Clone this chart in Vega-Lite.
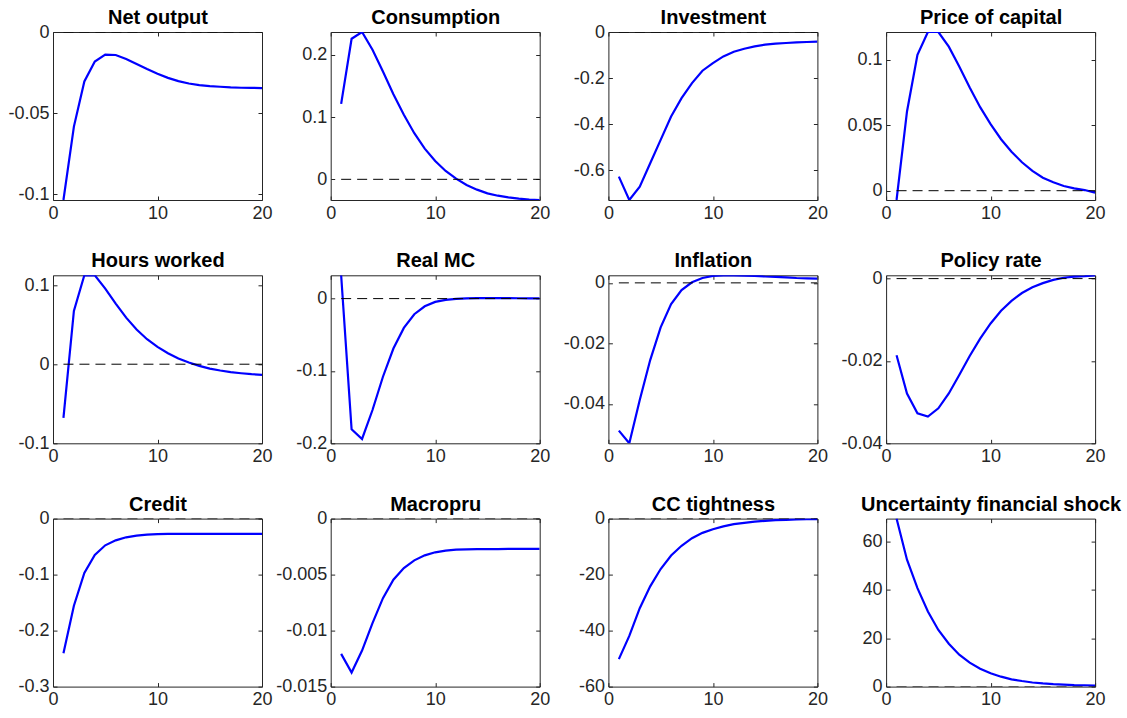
{
"$schema": "https://vega.github.io/schema/vega-lite/v6.json",
"background": "white",
"padding": {"left": 7, "top": 7, "right": 5, "bottom": 5},
"bounds": "flush",
"columns": 4,
"spacing": {"row": 75.3, "column": 68.7},
"datasets": {"irf": [
{"v":"Net output","t":1,"y":-0.1037},{"v":"Net output","t":2,"y":-0.0584},{"v":"Net output","t":3,"y":-0.0305},{"v":"Net output","t":4,"y":-0.0182},{"v":"Net output","t":5,"y":-0.0140},{"v":"Net output","t":6,"y":-0.0142},{"v":"Net output","t":7,"y":-0.0167},{"v":"Net output","t":8,"y":-0.0198},{"v":"Net output","t":9,"y":-0.0229},{"v":"Net output","t":10,"y":-0.0258},{"v":"Net output","t":11,"y":-0.0283},{"v":"Net output","t":12,"y":-0.0303},{"v":"Net output","t":13,"y":-0.0318},{"v":"Net output","t":14,"y":-0.0328},{"v":"Net output","t":15,"y":-0.0334},{"v":"Net output","t":16,"y":-0.0338},{"v":"Net output","t":17,"y":-0.0342},{"v":"Net output","t":18,"y":-0.0344},{"v":"Net output","t":19,"y":-0.0345},{"v":"Net output","t":20,"y":-0.0346},
{"v":"Consumption","t":1,"y":0.1212},{"v":"Consumption","t":2,"y":0.2257},{"v":"Consumption","t":3,"y":0.2365},{"v":"Consumption","t":4,"y":0.208},{"v":"Consumption","t":5,"y":0.1732},{"v":"Consumption","t":6,"y":0.1367},{"v":"Consumption","t":7,"y":0.1035},{"v":"Consumption","t":8,"y":0.074},{"v":"Consumption","t":9,"y":0.0493},{"v":"Consumption","t":10,"y":0.0295},{"v":"Consumption","t":11,"y":0.0134},{"v":"Consumption","t":12,"y":0.0011},{"v":"Consumption","t":13,"y":-0.0091},{"v":"Consumption","t":14,"y":-0.0166},{"v":"Consumption","t":15,"y":-0.0225},{"v":"Consumption","t":16,"y":-0.0263},{"v":"Consumption","t":17,"y":-0.029},{"v":"Consumption","t":18,"y":-0.0311},{"v":"Consumption","t":19,"y":-0.0324},{"v":"Consumption","t":20,"y":-0.0332},
{"v":"Investment","t":1,"y":-0.6275},{"v":"Investment","t":2,"y":-0.729},{"v":"Investment","t":3,"y":-0.671},{"v":"Investment","t":4,"y":-0.5696},{"v":"Investment","t":5,"y":-0.468},{"v":"Investment","t":6,"y":-0.3667},{"v":"Investment","t":7,"y":-0.287},{"v":"Investment","t":8,"y":-0.2217},{"v":"Investment","t":9,"y":-0.168},{"v":"Investment","t":10,"y":-0.1348},{"v":"Investment","t":11,"y":-0.1058},{"v":"Investment","t":12,"y":-0.0855},{"v":"Investment","t":13,"y":-0.0725},{"v":"Investment","t":14,"y":-0.0623},{"v":"Investment","t":15,"y":-0.055},{"v":"Investment","t":16,"y":-0.0507},{"v":"Investment","t":17,"y":-0.0478},{"v":"Investment","t":18,"y":-0.0449},{"v":"Investment","t":19,"y":-0.0435},{"v":"Investment","t":20,"y":-0.042},
{"v":"Price of capital","t":1,"y":-0.0071},{"v":"Price of capital","t":2,"y":0.0605},{"v":"Price of capital","t":3,"y":0.1038},{"v":"Price of capital","t":4,"y":0.1212},{"v":"Price of capital","t":5,"y":0.1212},{"v":"Price of capital","t":6,"y":0.110},{"v":"Price of capital","t":7,"y":0.0949},{"v":"Price of capital","t":8,"y":0.0788},{"v":"Price of capital","t":9,"y":0.0638},{"v":"Price of capital","t":10,"y":0.0508},{"v":"Price of capital","t":11,"y":0.0393},{"v":"Price of capital","t":12,"y":0.0298},{"v":"Price of capital","t":13,"y":0.0217},{"v":"Price of capital","t":14,"y":0.0151},{"v":"Price of capital","t":15,"y":0.0099},{"v":"Price of capital","t":16,"y":0.0064},{"v":"Price of capital","t":17,"y":0.0036},{"v":"Price of capital","t":18,"y":0.0018},{"v":"Price of capital","t":19,"y":0.0005},{"v":"Price of capital","t":20,"y":-0.0015},
{"v":"Hours worked","t":1,"y":-0.0678},{"v":"Hours worked","t":2,"y":0.0674},{"v":"Hours worked","t":3,"y":0.1124},{"v":"Hours worked","t":4,"y":0.1124},{"v":"Hours worked","t":5,"y":0.0956},{"v":"Hours worked","t":6,"y":0.0766},{"v":"Hours worked","t":7,"y":0.0589},{"v":"Hours worked","t":8,"y":0.0438},{"v":"Hours worked","t":9,"y":0.0316},{"v":"Hours worked","t":10,"y":0.0219},{"v":"Hours worked","t":11,"y":0.0139},{"v":"Hours worked","t":12,"y":0.0072},{"v":"Hours worked","t":13,"y":0.0021},{"v":"Hours worked","t":14,"y":-0.0021},{"v":"Hours worked","t":15,"y":-0.0055},{"v":"Hours worked","t":16,"y":-0.008},{"v":"Hours worked","t":17,"y":-0.0101},{"v":"Hours worked","t":18,"y":-0.0114},{"v":"Hours worked","t":19,"y":-0.0126},{"v":"Hours worked","t":20,"y":-0.0135},
{"v":"Real MC","t":1,"y":0.0322},{"v":"Real MC","t":2,"y":-0.1807},{"v":"Real MC","t":3,"y":-0.194},{"v":"Real MC","t":4,"y":-0.154},{"v":"Real MC","t":5,"y":-0.108},{"v":"Real MC","t":6,"y":-0.069},{"v":"Real MC","t":7,"y":-0.0405},{"v":"Real MC","t":8,"y":-0.0216},{"v":"Real MC","t":9,"y":-0.0106},{"v":"Real MC","t":10,"y":-0.0046},{"v":"Real MC","t":11,"y":-0.0018},{"v":"Real MC","t":12,"y":-0.0005},{"v":"Real MC","t":13,"y":0.0002},{"v":"Real MC","t":14,"y":0.0006},{"v":"Real MC","t":15,"y":0.0007},{"v":"Real MC","t":16,"y":0.0007},{"v":"Real MC","t":17,"y":0.0006},{"v":"Real MC","t":18,"y":0.0005},{"v":"Real MC","t":19,"y":0.0004},{"v":"Real MC","t":20,"y":0.0003},
{"v":"Inflation","t":1,"y":-0.0488},{"v":"Inflation","t":2,"y":-0.053},{"v":"Inflation","t":3,"y":-0.0387},{"v":"Inflation","t":4,"y":-0.0255},{"v":"Inflation","t":5,"y":-0.0147},{"v":"Inflation","t":6,"y":-0.007},{"v":"Inflation","t":7,"y":-0.0024},{"v":"Inflation","t":8,"y":0.0002},{"v":"Inflation","t":9,"y":0.0016},{"v":"Inflation","t":10,"y":0.0023},{"v":"Inflation","t":11,"y":0.0025},{"v":"Inflation","t":12,"y":0.0025},{"v":"Inflation","t":13,"y":0.0024},{"v":"Inflation","t":14,"y":0.0023},{"v":"Inflation","t":15,"y":0.0021},{"v":"Inflation","t":16,"y":0.002},{"v":"Inflation","t":17,"y":0.0018},{"v":"Inflation","t":18,"y":0.0016},{"v":"Inflation","t":19,"y":0.0015},{"v":"Inflation","t":20,"y":0.0014},
{"v":"Policy rate","t":1,"y":-0.0186},{"v":"Policy rate","t":2,"y":-0.0279},{"v":"Policy rate","t":3,"y":-0.0327},{"v":"Policy rate","t":4,"y":-0.0335},{"v":"Policy rate","t":5,"y":-0.0315},{"v":"Policy rate","t":6,"y":-0.0279},{"v":"Policy rate","t":7,"y":-0.0234},{"v":"Policy rate","t":8,"y":-0.0188},{"v":"Policy rate","t":9,"y":-0.0146},{"v":"Policy rate","t":10,"y":-0.0109},{"v":"Policy rate","t":11,"y":-0.0078},{"v":"Policy rate","t":12,"y":-0.0054},{"v":"Policy rate","t":13,"y":-0.0035},{"v":"Policy rate","t":14,"y":-0.0021},{"v":"Policy rate","t":15,"y":-0.0011},{"v":"Policy rate","t":16,"y":-0.0003},{"v":"Policy rate","t":17,"y":0.0002},{"v":"Policy rate","t":18,"y":0.0005},{"v":"Policy rate","t":19,"y":0.0006},{"v":"Policy rate","t":20,"y":0.0008},
{"v":"Credit","t":1,"y":-0.2403},{"v":"Credit","t":2,"y":-0.1556},{"v":"Credit","t":3,"y":-0.0972},{"v":"Credit","t":4,"y":-0.065},{"v":"Credit","t":5,"y":-0.0477},{"v":"Credit","t":6,"y":-0.0388},{"v":"Credit","t":7,"y":-0.0334},{"v":"Credit","t":8,"y":-0.0304},{"v":"Credit","t":9,"y":-0.0286},{"v":"Credit","t":10,"y":-0.0277},{"v":"Credit","t":11,"y":-0.0274},{"v":"Credit","t":12,"y":-0.0273},{"v":"Credit","t":13,"y":-0.0272},{"v":"Credit","t":14,"y":-0.0272},{"v":"Credit","t":15,"y":-0.0271},{"v":"Credit","t":16,"y":-0.0271},{"v":"Credit","t":17,"y":-0.0271},{"v":"Credit","t":18,"y":-0.0271},{"v":"Credit","t":19,"y":-0.0271},{"v":"Credit","t":20,"y":-0.0271},
{"v":"Macropru","t":1,"y":-0.01208},{"v":"Macropru","t":2,"y":-0.01374},{"v":"Macropru","t":3,"y":-0.01178},{"v":"Macropru","t":4,"y":-0.00933},{"v":"Macropru","t":5,"y":-0.0071},{"v":"Macropru","t":6,"y":-0.00546},{"v":"Macropru","t":7,"y":-0.00441},{"v":"Macropru","t":8,"y":-0.00373},{"v":"Macropru","t":9,"y":-0.00328},{"v":"Macropru","t":10,"y":-0.00301},{"v":"Macropru","t":11,"y":-0.00286},{"v":"Macropru","t":12,"y":-0.00277},{"v":"Macropru","t":13,"y":-0.00274},{"v":"Macropru","t":14,"y":-0.00273},{"v":"Macropru","t":15,"y":-0.00272},{"v":"Macropru","t":16,"y":-0.00272},{"v":"Macropru","t":17,"y":-0.00271},{"v":"Macropru","t":18,"y":-0.00271},{"v":"Macropru","t":19,"y":-0.00271},{"v":"Macropru","t":20,"y":-0.00271},
{"v":"CC tightness","t":1,"y":-50.2},{"v":"CC tightness","t":2,"y":-41.9},{"v":"CC tightness","t":3,"y":-32.0},{"v":"CC tightness","t":4,"y":-24.2},{"v":"CC tightness","t":5,"y":-18.0},{"v":"CC tightness","t":6,"y":-13.2},{"v":"CC tightness","t":7,"y":-9.7},{"v":"CC tightness","t":8,"y":-7.0},{"v":"CC tightness","t":9,"y":-5.1},{"v":"CC tightness","t":10,"y":-3.8},{"v":"CC tightness","t":11,"y":-2.8},{"v":"CC tightness","t":12,"y":-2.0},{"v":"CC tightness","t":13,"y":-1.5},{"v":"CC tightness","t":14,"y":-1.07},{"v":"CC tightness","t":15,"y":-0.78},{"v":"CC tightness","t":16,"y":-0.54},{"v":"CC tightness","t":17,"y":-0.42},{"v":"CC tightness","t":18,"y":-0.3},{"v":"CC tightness","t":19,"y":-0.24},{"v":"CC tightness","t":20,"y":-0.18},
{"v":"Uncertainty financial shock","t":1,"y":69.4},{"v":"Uncertainty financial shock","t":2,"y":52.4},{"v":"Uncertainty financial shock","t":3,"y":40.7},{"v":"Uncertainty financial shock","t":4,"y":31.0},{"v":"Uncertainty financial shock","t":5,"y":23.4},{"v":"Uncertainty financial shock","t":6,"y":17.7},{"v":"Uncertainty financial shock","t":7,"y":13.2},{"v":"Uncertainty financial shock","t":8,"y":9.9},{"v":"Uncertainty financial shock","t":9,"y":7.4},{"v":"Uncertainty financial shock","t":10,"y":5.5},{"v":"Uncertainty financial shock","t":11,"y":4.1},{"v":"Uncertainty financial shock","t":12,"y":3.0},{"v":"Uncertainty financial shock","t":13,"y":2.3},{"v":"Uncertainty financial shock","t":14,"y":1.7},{"v":"Uncertainty financial shock","t":15,"y":1.3},{"v":"Uncertainty financial shock","t":16,"y":1.0},{"v":"Uncertainty financial shock","t":17,"y":0.8},{"v":"Uncertainty financial shock","t":18,"y":0.6},{"v":"Uncertainty financial shock","t":19,"y":0.5},{"v":"Uncertainty financial shock","t":20,"y":0.4}
]},
"concat": [
{"width": 209, "height": 168, "resolve": {"axis": {"x": "independent", "y": "independent"}}, "layer": [
 {"data": {"name": "irf"}, "transform": [{"filter": {"field": "v", "equal": "Net output"}}], "mark": {"type": "line", "color": "#0000ff", "strokeWidth": 2.2, "clip": true},
  "encoding": {"x": {"field": "t", "type": "quantitative", "scale": {"domain": [0, 20], "nice": false}, "axis": {"orient": "bottom", "title": null, "values": [0, 10, 20]}},
   "y": {"field": "y", "type": "quantitative", "scale": {"domain": [-0.1037, 0], "nice": false, "zero": false}, "axis": {"orient": "left", "title": null, "values": [-0.1, -0.05, 0]}}}},
 {"data": {"values": [{}]}, "mark": {"type": "rule", "color": "black", "strokeWidth": 1, "strokeDash": [10, 6], "clip": true},
  "encoding": {"x": {"datum": 1, "type": "quantitative", "scale": {"domain": [0, 20], "nice": false}, "axis": {"orient": "top", "title": "Net output", "labels": false, "values": [0, 10, 20]}}, "x2": {"datum": 20},
   "y": {"datum": 0, "type": "quantitative", "scale": {"domain": [-0.1037, 0], "nice": false, "zero": false}, "axis": {"orient": "right", "title": null, "labels": false, "values": [-0.1, -0.05, 0]}}}}]},
{"width": 209, "height": 168, "resolve": {"axis": {"x": "independent", "y": "independent"}}, "layer": [
 {"data": {"name": "irf"}, "transform": [{"filter": {"field": "v", "equal": "Consumption"}}], "mark": {"type": "line", "color": "#0000ff", "strokeWidth": 2.2, "clip": true},
  "encoding": {"x": {"field": "t", "type": "quantitative", "scale": {"domain": [0, 20], "nice": false}, "axis": {"orient": "bottom", "title": null, "values": [0, 10, 20]}},
   "y": {"field": "y", "type": "quantitative", "scale": {"domain": [-0.0332, 0.2365], "nice": false, "zero": false}, "axis": {"orient": "left", "title": null, "values": [0, 0.1, 0.2]}}}},
 {"data": {"values": [{}]}, "mark": {"type": "rule", "color": "black", "strokeWidth": 1, "strokeDash": [10, 6], "clip": true},
  "encoding": {"x": {"datum": 1, "type": "quantitative", "scale": {"domain": [0, 20], "nice": false}, "axis": {"orient": "top", "title": "Consumption", "labels": false, "values": [0, 10, 20]}}, "x2": {"datum": 20},
   "y": {"datum": 0, "type": "quantitative", "scale": {"domain": [-0.0332, 0.2365], "nice": false, "zero": false}, "axis": {"orient": "right", "title": null, "labels": false, "values": [0, 0.1, 0.2]}}}}]},
{"width": 209, "height": 168, "resolve": {"axis": {"x": "independent", "y": "independent"}}, "layer": [
 {"data": {"name": "irf"}, "transform": [{"filter": {"field": "v", "equal": "Investment"}}], "mark": {"type": "line", "color": "#0000ff", "strokeWidth": 2.2, "clip": true},
  "encoding": {"x": {"field": "t", "type": "quantitative", "scale": {"domain": [0, 20], "nice": false}, "axis": {"orient": "bottom", "title": null, "values": [0, 10, 20]}},
   "y": {"field": "y", "type": "quantitative", "scale": {"domain": [-0.729, 0], "nice": false, "zero": false}, "axis": {"orient": "left", "title": null, "values": [-0.6, -0.4, -0.2, 0]}}}},
 {"data": {"values": [{}]}, "mark": {"type": "rule", "color": "black", "strokeWidth": 1, "strokeDash": [10, 6], "clip": true},
  "encoding": {"x": {"datum": 1, "type": "quantitative", "scale": {"domain": [0, 20], "nice": false}, "axis": {"orient": "top", "title": "Investment", "labels": false, "values": [0, 10, 20]}}, "x2": {"datum": 20},
   "y": {"datum": 0, "type": "quantitative", "scale": {"domain": [-0.729, 0], "nice": false, "zero": false}, "axis": {"orient": "right", "title": null, "labels": false, "values": [-0.6, -0.4, -0.2, 0]}}}}]},
{"width": 209, "height": 168, "resolve": {"axis": {"x": "independent", "y": "independent"}}, "layer": [
 {"data": {"name": "irf"}, "transform": [{"filter": {"field": "v", "equal": "Price of capital"}}], "mark": {"type": "line", "color": "#0000ff", "strokeWidth": 2.2, "clip": true},
  "encoding": {"x": {"field": "t", "type": "quantitative", "scale": {"domain": [0, 20], "nice": false}, "axis": {"orient": "bottom", "title": null, "values": [0, 10, 20]}},
   "y": {"field": "y", "type": "quantitative", "scale": {"domain": [-0.0071, 0.1212], "nice": false, "zero": false}, "axis": {"orient": "left", "title": null, "values": [0, 0.05, 0.1]}}}},
 {"data": {"values": [{}]}, "mark": {"type": "rule", "color": "black", "strokeWidth": 1, "strokeDash": [10, 6], "clip": true},
  "encoding": {"x": {"datum": 1, "type": "quantitative", "scale": {"domain": [0, 20], "nice": false}, "axis": {"orient": "top", "title": "Price of capital", "labels": false, "values": [0, 10, 20]}}, "x2": {"datum": 20},
   "y": {"datum": 0, "type": "quantitative", "scale": {"domain": [-0.0071, 0.1212], "nice": false, "zero": false}, "axis": {"orient": "right", "title": null, "labels": false, "values": [0, 0.05, 0.1]}}}}]},
{"width": 209, "height": 168, "resolve": {"axis": {"x": "independent", "y": "independent"}}, "layer": [
 {"data": {"name": "irf"}, "transform": [{"filter": {"field": "v", "equal": "Hours worked"}}], "mark": {"type": "line", "color": "#0000ff", "strokeWidth": 2.2, "clip": true},
  "encoding": {"x": {"field": "t", "type": "quantitative", "scale": {"domain": [0, 20], "nice": false}, "axis": {"orient": "bottom", "title": null, "values": [0, 10, 20]}},
   "y": {"field": "y", "type": "quantitative", "scale": {"domain": [-0.1, 0.1124], "nice": false, "zero": false}, "axis": {"orient": "left", "title": null, "values": [-0.1, 0, 0.1]}}}},
 {"data": {"values": [{}]}, "mark": {"type": "rule", "color": "black", "strokeWidth": 1, "strokeDash": [10, 6], "clip": true},
  "encoding": {"x": {"datum": 1, "type": "quantitative", "scale": {"domain": [0, 20], "nice": false}, "axis": {"orient": "top", "title": "Hours worked", "labels": false, "values": [0, 10, 20]}}, "x2": {"datum": 20},
   "y": {"datum": 0, "type": "quantitative", "scale": {"domain": [-0.1, 0.1124], "nice": false, "zero": false}, "axis": {"orient": "right", "title": null, "labels": false, "values": [-0.1, 0, 0.1]}}}}]},
{"width": 209, "height": 168, "resolve": {"axis": {"x": "independent", "y": "independent"}}, "layer": [
 {"data": {"name": "irf"}, "transform": [{"filter": {"field": "v", "equal": "Real MC"}}], "mark": {"type": "line", "color": "#0000ff", "strokeWidth": 2.2, "clip": true},
  "encoding": {"x": {"field": "t", "type": "quantitative", "scale": {"domain": [0, 20], "nice": false}, "axis": {"orient": "bottom", "title": null, "values": [0, 10, 20]}},
   "y": {"field": "y", "type": "quantitative", "scale": {"domain": [-0.2, 0.0322], "nice": false, "zero": false}, "axis": {"orient": "left", "title": null, "values": [-0.2, -0.1, 0]}}}},
 {"data": {"values": [{}]}, "mark": {"type": "rule", "color": "black", "strokeWidth": 1, "strokeDash": [10, 6], "clip": true},
  "encoding": {"x": {"datum": 1, "type": "quantitative", "scale": {"domain": [0, 20], "nice": false}, "axis": {"orient": "top", "title": "Real MC", "labels": false, "values": [0, 10, 20]}}, "x2": {"datum": 20},
   "y": {"datum": 0, "type": "quantitative", "scale": {"domain": [-0.2, 0.0322], "nice": false, "zero": false}, "axis": {"orient": "right", "title": null, "labels": false, "values": [-0.2, -0.1, 0]}}}}]},
{"width": 209, "height": 168, "resolve": {"axis": {"x": "independent", "y": "independent"}}, "layer": [
 {"data": {"name": "irf"}, "transform": [{"filter": {"field": "v", "equal": "Inflation"}}], "mark": {"type": "line", "color": "#0000ff", "strokeWidth": 2.2, "clip": true},
  "encoding": {"x": {"field": "t", "type": "quantitative", "scale": {"domain": [0, 20], "nice": false}, "axis": {"orient": "bottom", "title": null, "values": [0, 10, 20]}},
   "y": {"field": "y", "type": "quantitative", "scale": {"domain": [-0.053, 0.0025], "nice": false, "zero": false}, "axis": {"orient": "left", "title": null, "values": [-0.04, -0.02, 0]}}}},
 {"data": {"values": [{}]}, "mark": {"type": "rule", "color": "black", "strokeWidth": 1, "strokeDash": [10, 6], "clip": true},
  "encoding": {"x": {"datum": 1, "type": "quantitative", "scale": {"domain": [0, 20], "nice": false}, "axis": {"orient": "top", "title": "Inflation", "labels": false, "values": [0, 10, 20]}}, "x2": {"datum": 20},
   "y": {"datum": 0, "type": "quantitative", "scale": {"domain": [-0.053, 0.0025], "nice": false, "zero": false}, "axis": {"orient": "right", "title": null, "labels": false, "values": [-0.04, -0.02, 0]}}}}]},
{"width": 209, "height": 168, "resolve": {"axis": {"x": "independent", "y": "independent"}}, "layer": [
 {"data": {"name": "irf"}, "transform": [{"filter": {"field": "v", "equal": "Policy rate"}}], "mark": {"type": "line", "color": "#0000ff", "strokeWidth": 2.2, "clip": true},
  "encoding": {"x": {"field": "t", "type": "quantitative", "scale": {"domain": [0, 20], "nice": false}, "axis": {"orient": "bottom", "title": null, "values": [0, 10, 20]}},
   "y": {"field": "y", "type": "quantitative", "scale": {"domain": [-0.04, 0.0008], "nice": false, "zero": false}, "axis": {"orient": "left", "title": null, "values": [-0.04, -0.02, 0]}}}},
 {"data": {"values": [{}]}, "mark": {"type": "rule", "color": "black", "strokeWidth": 1, "strokeDash": [10, 6], "clip": true},
  "encoding": {"x": {"datum": 1, "type": "quantitative", "scale": {"domain": [0, 20], "nice": false}, "axis": {"orient": "top", "title": "Policy rate", "labels": false, "values": [0, 10, 20]}}, "x2": {"datum": 20},
   "y": {"datum": 0, "type": "quantitative", "scale": {"domain": [-0.04, 0.0008], "nice": false, "zero": false}, "axis": {"orient": "right", "title": null, "labels": false, "values": [-0.04, -0.02, 0]}}}}]},
{"width": 209, "height": 168, "resolve": {"axis": {"x": "independent", "y": "independent"}}, "layer": [
 {"data": {"name": "irf"}, "transform": [{"filter": {"field": "v", "equal": "Credit"}}], "mark": {"type": "line", "color": "#0000ff", "strokeWidth": 2.2, "clip": true},
  "encoding": {"x": {"field": "t", "type": "quantitative", "scale": {"domain": [0, 20], "nice": false}, "axis": {"orient": "bottom", "title": null, "values": [0, 10, 20]}},
   "y": {"field": "y", "type": "quantitative", "scale": {"domain": [-0.3, 0], "nice": false, "zero": false}, "axis": {"orient": "left", "title": null, "values": [-0.3, -0.2, -0.1, 0]}}}},
 {"data": {"values": [{}]}, "mark": {"type": "rule", "color": "black", "strokeWidth": 1, "strokeDash": [10, 6], "clip": true},
  "encoding": {"x": {"datum": 1, "type": "quantitative", "scale": {"domain": [0, 20], "nice": false}, "axis": {"orient": "top", "title": "Credit", "labels": false, "values": [0, 10, 20]}}, "x2": {"datum": 20},
   "y": {"datum": 0, "type": "quantitative", "scale": {"domain": [-0.3, 0], "nice": false, "zero": false}, "axis": {"orient": "right", "title": null, "labels": false, "values": [-0.3, -0.2, -0.1, 0]}}}}]},
{"width": 209, "height": 168, "resolve": {"axis": {"x": "independent", "y": "independent"}}, "layer": [
 {"data": {"name": "irf"}, "transform": [{"filter": {"field": "v", "equal": "Macropru"}}], "mark": {"type": "line", "color": "#0000ff", "strokeWidth": 2.2, "clip": true},
  "encoding": {"x": {"field": "t", "type": "quantitative", "scale": {"domain": [0, 20], "nice": false}, "axis": {"orient": "bottom", "title": null, "values": [0, 10, 20]}},
   "y": {"field": "y", "type": "quantitative", "scale": {"domain": [-0.015, 0], "nice": false, "zero": false}, "axis": {"orient": "left", "title": null, "values": [-0.015, -0.01, -0.005, 0]}}}},
 {"data": {"values": [{}]}, "mark": {"type": "rule", "color": "black", "strokeWidth": 1, "strokeDash": [10, 6], "clip": true},
  "encoding": {"x": {"datum": 1, "type": "quantitative", "scale": {"domain": [0, 20], "nice": false}, "axis": {"orient": "top", "title": "Macropru", "labels": false, "values": [0, 10, 20]}}, "x2": {"datum": 20},
   "y": {"datum": 0, "type": "quantitative", "scale": {"domain": [-0.015, 0], "nice": false, "zero": false}, "axis": {"orient": "right", "title": null, "labels": false, "values": [-0.015, -0.01, -0.005, 0]}}}}]},
{"width": 209, "height": 168, "resolve": {"axis": {"x": "independent", "y": "independent"}}, "layer": [
 {"data": {"name": "irf"}, "transform": [{"filter": {"field": "v", "equal": "CC tightness"}}], "mark": {"type": "line", "color": "#0000ff", "strokeWidth": 2.2, "clip": true},
  "encoding": {"x": {"field": "t", "type": "quantitative", "scale": {"domain": [0, 20], "nice": false}, "axis": {"orient": "bottom", "title": null, "values": [0, 10, 20]}},
   "y": {"field": "y", "type": "quantitative", "scale": {"domain": [-60, 0], "nice": false, "zero": false}, "axis": {"orient": "left", "title": null, "values": [-60, -40, -20, 0]}}}},
 {"data": {"values": [{}]}, "mark": {"type": "rule", "color": "black", "strokeWidth": 1, "strokeDash": [10, 6], "clip": true},
  "encoding": {"x": {"datum": 1, "type": "quantitative", "scale": {"domain": [0, 20], "nice": false}, "axis": {"orient": "top", "title": "CC tightness", "labels": false, "values": [0, 10, 20]}}, "x2": {"datum": 20},
   "y": {"datum": 0, "type": "quantitative", "scale": {"domain": [-60, 0], "nice": false, "zero": false}, "axis": {"orient": "right", "title": null, "labels": false, "values": [-60, -40, -20, 0]}}}}]},
{"width": 209, "height": 168, "resolve": {"axis": {"x": "independent", "y": "independent"}}, "layer": [
 {"data": {"name": "irf"}, "transform": [{"filter": {"field": "v", "equal": "Uncertainty financial shock"}}], "mark": {"type": "line", "color": "#0000ff", "strokeWidth": 2.2, "clip": true},
  "encoding": {"x": {"field": "t", "type": "quantitative", "scale": {"domain": [0, 20], "nice": false}, "axis": {"orient": "bottom", "title": null, "values": [0, 10, 20]}},
   "y": {"field": "y", "type": "quantitative", "scale": {"domain": [0, 69.4], "nice": false, "zero": false}, "axis": {"orient": "left", "title": null, "values": [0, 20, 40, 60]}}}},
 {"data": {"values": [{}]}, "mark": {"type": "rule", "color": "black", "strokeWidth": 1, "strokeDash": [10, 6], "clip": true},
  "encoding": {"x": {"datum": 1, "type": "quantitative", "scale": {"domain": [0, 20], "nice": false}, "axis": {"orient": "top", "title": "Uncertainty financial shock", "labels": false, "values": [0, 10, 20]}}, "x2": {"datum": 20},
   "y": {"datum": 0, "type": "quantitative", "scale": {"domain": [0, 69.4], "nice": false, "zero": false}, "axis": {"orient": "right", "title": null, "labels": false, "values": [0, 20, 40, 60]}}}}]}
],
"config": {
 "locale": {"number": {"decimal": ".", "thousands": ",", "grouping": [3], "currency": ["$", ""], "minus": "-"}},
 "view": {"stroke": "#262626", "strokeWidth": 1},
 "axis": {"grid": false, "domain": false, "offset": -4, "tickColor": "#262626", "tickWidth": 1, "tickSize": 4, "labelColor": "#262626", "labelFont": "Liberation Sans", "labelFontSize": 18, "labelPadding": 4, "labelFlush": false, "labelOverlap": false, "format": ".6~r"},
 "axisTop": {"titleFont": "Liberation Sans", "titleFontSize": 20, "titleFontWeight": "bold", "titleColor": "#000000", "titleBaseline": "alphabetic", "titlePadding": 8, "titleAnchor": "middle"}
}
}
